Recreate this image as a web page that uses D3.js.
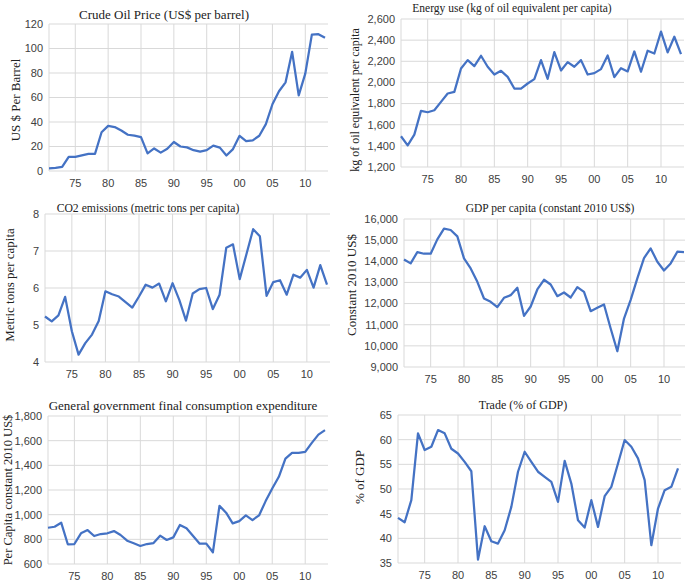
<!DOCTYPE html>
<html><head><meta charset="utf-8">
<script src="https://cdn.jsdelivr.net/npm/d3@7"></script>
<style>body{margin:0;background:#fff}svg{display:block}</style>
</head><body>
<svg id="c" width="685" height="582"></svg>
<script>
const years = d3.range(1971, 2014);
const xTickYears = [1975,1980,1985,1990,1995,2000,2005,2010];

const oilPrice = [2.2,2.5,3.3,11.6,11.5,12.8,13.9,14.0,31.6,36.8,35.9,33.0,29.6,28.8,27.6,14.4,18.4,15.0,18.2,23.7,20.0,19.3,17.0,15.8,17.0,20.7,19.1,12.7,17.9,28.7,24.4,25.0,28.8,38.3,54.5,65.1,72.4,97.3,61.7,79.5,111.3,111.7,108.7];
const energyUse = [1491,1405,1506,1731,1718,1737,1816,1895,1911,2132,2211,2154,2252,2148,2075,2110,2053,1942,1942,1990,2031,2211,2034,2287,2113,2192,2148,2211,2075,2088,2126,2255,2050,2135,2104,2293,2101,2300,2274,2480,2284,2432,2268];
const co2 = [5.23,5.10,5.26,5.76,4.83,4.20,4.51,4.74,5.11,5.91,5.83,5.77,5.62,5.47,5.77,6.09,6.01,6.12,5.64,6.13,5.68,5.12,5.85,5.97,6.00,5.43,5.82,7.09,7.18,6.24,6.91,7.59,7.40,5.79,6.16,6.21,5.82,6.36,6.28,6.49,6.01,6.62,6.09];
const gdpPerCapita = [14088,13900,14436,14357,14357,15036,15542,15479,15178,14136,13662,13030,12240,12082,11830,12272,12398,12746,11419,11861,12667,13125,12904,12350,12524,12287,12777,12556,11640,11798,11956,10818,9744,11292,12177,13188,14152,14610,13978,13567,13900,14452,14436];
const govConsumption = [894,902,935,760,762,849,875,827,843,849,867,835,789,768,746,762,770,830,795,816,916,889,827,765,765,695,1072,1016,929,948,994,956,994,1110,1212,1307,1455,1501,1501,1509,1582,1649,1685];
const trade = [44.15,43.27,47.74,61.28,57.9,58.57,61.95,61.28,58.16,57.2,55.5,53.6,35.68,42.45,39.4,38.93,41.64,46.38,53.5,57.55,55.5,53.5,52.47,51.46,47.4,55.7,51.1,43.67,42.18,47.74,42.32,48.55,50.44,55.18,59.92,58.57,56.2,51.8,38.6,46.04,49.77,50.44,54.17];

const oilTicks = [0,20,40,60,80,100,120];
const energyTicks = [1200,1400,1600,1800,2000,2200,2400,2600];
const co2Ticks = [4,5,6,7,8];
const gdpTicks = [9000,10000,11000,12000,13000,14000,15000,16000];
const govTicks = [600,800,1000,1200,1400,1600,1800];
const tradeTicks = [35,40,45,50,55,60,65];

const titles = ["Crude Oil Price (US$ per barrel)","Energy use (kg of oil equivalent per capita)","CO2 emissions (metric tons per capita)","GDP per capita (constant 2010 US$)","General government final consumption expenditure","Trade (% of GDP)"];
const yLabels = ["US $ Per Barrel","kg of oil equivalent per capita","Metric tons per capita","Constant 2010 US$","Per Capita constant 2010 US$","% of GDP"];

const panels = [
  {data:oilPrice, ticks:oilTicks, fmt:d3.format("d"), l:49, r:325, t:24, b:171, tx:164, ty:19, tfs:13, ly:100, lx:20, lfs:13},
  {data:energyUse, ticks:energyTicks, fmt:d3.format(","), l:401, r:681, t:19, b:167, tx:512, ty:12, tfs:11.5, ly:100, lx:359, lfs:12},
  {data:co2, ticks:co2Ticks, fmt:d3.format("d"), l:45, r:327, t:214, b:362, tx:148, ty:212, tfs:11.7, ly:285, lx:14, lfs:13},
  {data:gdpPerCapita, ticks:gdpTicks, fmt:d3.format(","), l:404, r:684, t:219, b:367, tx:550, ty:212, tfs:11.5, ly:285, lx:356, lfs:13},
  {data:govConsumption, ticks:govTicks, fmt:d3.format(","), l:48, r:325, t:416, b:564, tx:183, ty:410, tfs:13, ly:490, lx:12, lfs:12.5},
  {data:trade, ticks:tradeTicks, fmt:d3.format("d"), l:398, r:678, t:415, b:563, tx:523, ty:409, tfs:12, ly:477, lx:364, lfs:13}
];

const svg = d3.select("#c");
const grid = "#d9d9d9";
panels.forEach((p, i) => {
  const g = svg.append("g");
  const x = d3.scaleLinear().domain([1971, 2013]).range([p.l, p.r]);
  const y = d3.scaleLinear().domain(d3.extent(p.ticks)).range([p.b, p.t]);
  g.selectAll(".hg").data(p.ticks).join("line")
    .attr("x1", p.l).attr("x2", p.r + 3)
    .attr("y1", d => y(d)).attr("y2", d => y(d))
    .attr("stroke", grid).attr("stroke-width", 1);
  g.selectAll(".vg").data(xTickYears).join("line")
    .attr("x1", d => x(d)).attr("x2", d => x(d))
    .attr("y1", p.t).attr("y2", p.b)
    .attr("stroke", grid).attr("stroke-width", 1);
  g.append("line").attr("x1", p.l).attr("x2", p.l).attr("y1", p.t).attr("y2", p.b)
    .attr("stroke", grid).attr("stroke-width", 1);
  g.selectAll(".yt").data(p.ticks).join("text")
    .attr("x", p.l - 6).attr("y", d => y(d)).attr("dy", "0.35em")
    .attr("text-anchor", "end")
    .attr("font-family", "Liberation Sans, Arial, sans-serif").attr("font-size", 11).attr("fill", "#404040")
    .text(p.fmt);
  g.selectAll(".xt").data(xTickYears).join("text")
    .attr("x", d => x(d)).attr("y", p.b + 16)
    .attr("text-anchor", "middle")
    .attr("font-family", "Liberation Sans, Arial, sans-serif").attr("font-size", 11).attr("fill", "#404040")
    .text(d => d3.format("02d")(d % 100));
  g.append("path").datum(p.data)
    .attr("d", d3.line().x((d, k) => x(years[k])).y(d => y(d)))
    .attr("fill", "none").attr("stroke", "#4472c4").attr("stroke-width", 2.25)
    .attr("stroke-linejoin", "round");
  g.append("text").attr("x", p.tx).attr("y", p.ty).attr("text-anchor", "middle")
    .attr("font-family", "Liberation Serif, Times New Roman, serif").attr("font-size", p.tfs).attr("fill", "#222")
    .text(titles[i]);
  g.append("text").attr("transform", `translate(${p.lx},${p.ly}) rotate(-90)`)
    .attr("text-anchor", "middle")
    .attr("font-family", "Liberation Serif, Times New Roman, serif").attr("font-size", p.lfs).attr("fill", "#222")
    .text(yLabels[i]);
});
</script>
</body></html>
